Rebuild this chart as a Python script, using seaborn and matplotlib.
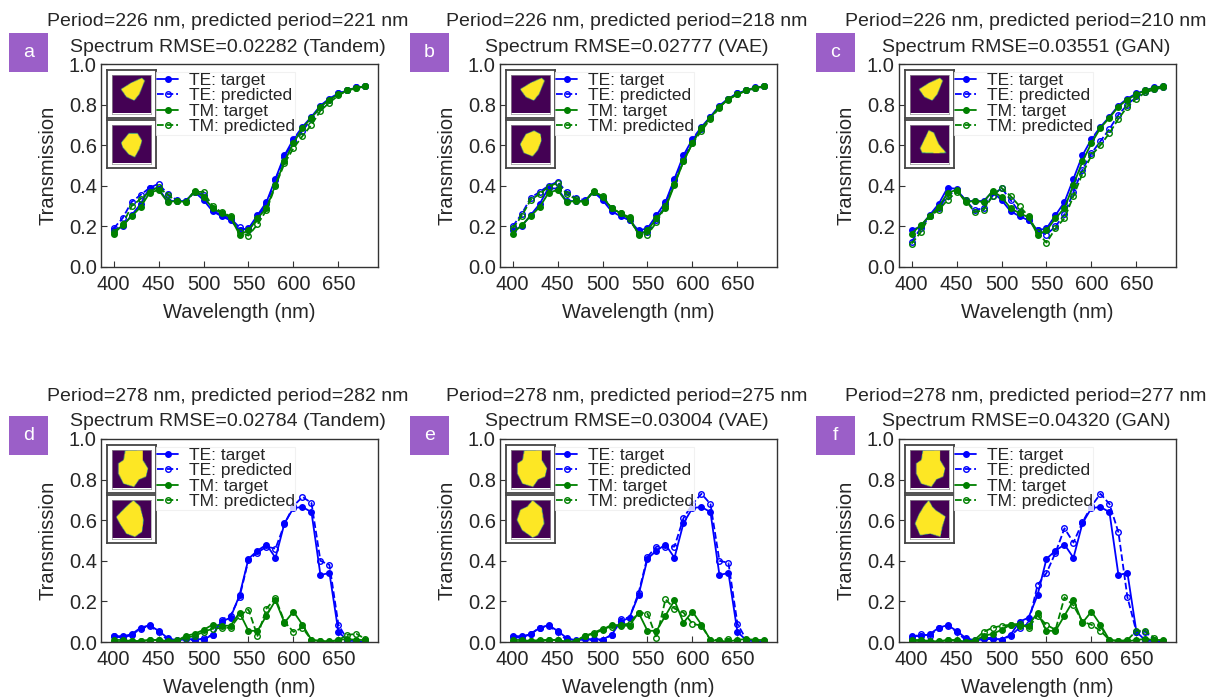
import numpy as np
import pandas as pd
import matplotlib
matplotlib.use("Agg")
import matplotlib.pyplot as plt
import seaborn as sns
from matplotlib.path import Path
from matplotlib.patches import Rectangle

# ---------------- data ----------------
wavelength = [400, 410, 420, 430, 440, 450, 460, 470, 480, 490, 500, 510, 520, 530, 540,
              550, 560, 570, 580, 590, 600, 610, 620, 630, 640, 650, 660, 670, 680]

# period 226 nm targets
te_target_226 = [0.18, 0.20, 0.255, 0.31, 0.39, 0.385, 0.325, 0.325, 0.325, 0.37, 0.33, 0.275, 0.25, 0.23, 0.18,
                 0.19, 0.255, 0.32, 0.435, 0.55, 0.63, 0.69, 0.74, 0.795, 0.83, 0.855, 0.87, 0.885, 0.89]
tm_target_226 = [0.165, 0.205, 0.25, 0.295, 0.365, 0.38, 0.32, 0.325, 0.32, 0.375, 0.345, 0.29, 0.265, 0.245, 0.16,
                 0.18, 0.24, 0.29, 0.405, 0.52, 0.61, 0.685, 0.735, 0.79, 0.825, 0.85, 0.87, 0.883, 0.89]
te_pred_tandem_226 = [0.19, 0.24, 0.32, 0.355, 0.39, 0.41, 0.36, 0.33, 0.325, 0.37, 0.355, 0.28, 0.255, 0.24, 0.195,
                      0.18, 0.24, 0.31, 0.43, 0.54, 0.62, 0.67, 0.73, 0.79, 0.825, 0.855, 0.87, 0.885, 0.89]
tm_pred_tandem_226 = [0.17, 0.21, 0.30, 0.335, 0.37, 0.395, 0.355, 0.325, 0.32, 0.37, 0.37, 0.30, 0.27, 0.25, 0.17,
                      0.155, 0.21, 0.28, 0.40, 0.51, 0.585, 0.645, 0.70, 0.77, 0.81, 0.845, 0.87, 0.88, 0.89]
te_pred_vae_226 = [0.20, 0.26, 0.34, 0.37, 0.40, 0.42, 0.37, 0.34, 0.33, 0.37, 0.34, 0.29, 0.26, 0.23, 0.17,
                   0.17, 0.23, 0.31, 0.43, 0.53, 0.62, 0.68, 0.74, 0.79, 0.83, 0.855, 0.87, 0.88, 0.89]
tm_pred_vae_226 = [0.19, 0.25, 0.33, 0.36, 0.395, 0.415, 0.36, 0.335, 0.32, 0.37, 0.35, 0.29, 0.265, 0.235, 0.165,
                   0.16, 0.22, 0.30, 0.41, 0.52, 0.61, 0.67, 0.73, 0.785, 0.83, 0.85, 0.87, 0.88, 0.89]
te_pred_gan_226 = [0.125, 0.19, 0.25, 0.29, 0.35, 0.38, 0.33, 0.28, 0.29, 0.35, 0.39, 0.33, 0.27, 0.23, 0.18,
                   0.16, 0.20, 0.26, 0.37, 0.48, 0.56, 0.62, 0.68, 0.75, 0.80, 0.84, 0.86, 0.875, 0.885]
tm_pred_gan_226 = [0.115, 0.17, 0.25, 0.28, 0.33, 0.37, 0.33, 0.27, 0.28, 0.35, 0.39, 0.35, 0.30, 0.25, 0.17,
                   0.12, 0.19, 0.24, 0.35, 0.46, 0.55, 0.60, 0.66, 0.73, 0.79, 0.83, 0.86, 0.875, 0.885]

# period 278 nm targets
te_target_278 = [0.03, 0.028, 0.038, 0.07, 0.083, 0.055, 0.02, 0.008, 0.013, 0.015, 0.012, 0.035, 0.10, 0.12, 0.23,
                 0.41, 0.45, 0.48, 0.415, 0.585, 0.66, 0.665, 0.64, 0.33, 0.34, 0.05, 0.008, 0.003, 0.003]
tm_target_278 = [0.01, 0.01, 0.005, 0.003, 0.01, 0.01, 0.0, 0.005, 0.03, 0.04, 0.06, 0.085, 0.08, 0.08, 0.145,
                 0.055, 0.055, 0.13, 0.205, 0.095, 0.15, 0.085, 0.01, 0.005, 0.003, 0.01, 0.015, 0.01, 0.01]
te_pred_tandem_278 = [0.03, 0.02, 0.035, 0.065, 0.08, 0.05, 0.01, 0.005, 0.02, 0.005, 0.02, 0.035, 0.11, 0.13, 0.22,
                      0.405, 0.44, 0.47, 0.46, 0.58, 0.67, 0.715, 0.685, 0.40, 0.38, 0.085, 0.01, 0.005, 0.0]
tm_pred_tandem_278 = [0.0, 0.0, 0.005, 0.005, 0.01, 0.01, 0.005, 0.01, 0.02, 0.03, 0.05, 0.065, 0.07, 0.07, 0.13,
                      0.16, 0.03, 0.165, 0.215, 0.10, 0.05, 0.07, 0.01, 0.005, 0.0, 0.01, 0.035, 0.04, 0.015]
te_pred_vae_278 = [0.025, 0.02, 0.04, 0.07, 0.08, 0.05, 0.01, 0.0, 0.02, 0.005, 0.01, 0.035, 0.115, 0.12, 0.24,
                   0.42, 0.47, 0.47, 0.47, 0.61, 0.68, 0.73, 0.68, 0.40, 0.39, 0.09, 0.01, 0.005, 0.0]
tm_pred_vae_278 = [0.0, 0.0, 0.005, 0.01, 0.01, 0.01, 0.0, 0.0, 0.03, 0.045, 0.065, 0.075, 0.085, 0.09, 0.145,
                   0.14, 0.02, 0.21, 0.165, 0.145, 0.09, 0.08, 0.01, 0.01, 0.015, 0.005, 0.01, 0.005, 0.005]
te_pred_gan_278 = [0.02, 0.04, 0.03, 0.07, 0.08, 0.05, 0.01, 0.005, 0.02, 0.02, 0.01, 0.03, 0.07, 0.09, 0.28,
                   0.34, 0.44, 0.56, 0.49, 0.59, 0.67, 0.73, 0.68, 0.54, 0.22, 0.05, 0.05, 0.01, 0.0]
tm_pred_gan_278 = [0.005, 0.005, 0.0, 0.0, 0.01, 0.005, 0.0, 0.01, 0.05, 0.07, 0.08, 0.085, 0.09, 0.07, 0.13,
                   0.085, 0.06, 0.22, 0.18, 0.10, 0.085, 0.055, 0.01, 0.005, 0.01, 0.055, 0.055, 0.02, 0.005]

panel_letters = ["a", "b", "c", "d", "e", "f"]
periods = [226, 226, 226, 278, 278, 278]
predicted_periods = [221, 218, 210, 282, 275, 277]
rmse_values = ["0.02282", "0.02777", "0.03551", "0.02784", "0.03004", "0.04320"]
methods = ["Tandem", "VAE", "GAN", "Tandem", "VAE", "GAN"]

# inset shape outlines (image coords, x right / y down, 0..1)
shape_target_226 = [(0.23, 0.39), (0.50, 0.22), (0.77, 0.10), (0.84, 0.17), (0.70, 0.52), (0.57, 0.68), (0.37, 0.59)]
shape_tandem_226 = [(0.23, 0.48), (0.42, 0.24), (0.64, 0.24), (0.75, 0.43), (0.68, 0.65), (0.57, 0.85),
                    (0.42, 0.78), (0.27, 0.60)]
shape_vae_226 = [(0.23, 0.52), (0.37, 0.26), (0.58, 0.17), (0.74, 0.26), (0.76, 0.43), (0.67, 0.67),
                 (0.54, 0.83), (0.32, 0.74)]
shape_gan_226 = [(0.26, 0.62), (0.39, 0.35), (0.48, 0.16), (0.61, 0.22), (0.74, 0.52), (0.93, 0.74),
                 (0.70, 0.75), (0.31, 0.74)]
shape_target_278 = [(0.33, 0.03), (0.77, 0.02), (0.77, 0.28), (0.90, 0.50), (0.85, 0.71), (0.68, 0.78),
                    (0.55, 0.97), (0.29, 0.89), (0.16, 0.63), (0.16, 0.37), (0.29, 0.28)]
shape_tandem_278 = [(0.55, 0.03), (0.72, 0.19), (0.81, 0.54), (0.77, 0.84), (0.59, 0.97), (0.37, 0.89),
                    (0.20, 0.63), (0.11, 0.46), (0.24, 0.32), (0.37, 0.19)]
shape_vae_278 = [(0.54, 0.03), (0.77, 0.23), (0.83, 0.63), (0.67, 0.93), (0.54, 0.99), (0.28, 0.80),
                 (0.15, 0.54), (0.23, 0.28), (0.41, 0.19)]
shape_gan_278 = [(0.48, 0.03), (0.57, 0.19), (0.65, 0.28), (0.91, 0.45), (0.83, 0.71), (0.78, 0.97),
                 (0.52, 0.89), (0.26, 0.93), (0.13, 0.63), (0.22, 0.41), (0.35, 0.19)]

panel_series = [
    (te_target_226, te_pred_tandem_226, tm_target_226, tm_pred_tandem_226, shape_target_226, shape_tandem_226),
    (te_target_226, te_pred_vae_226, tm_target_226, tm_pred_vae_226, shape_target_226, shape_vae_226),
    (te_target_226, te_pred_gan_226, tm_target_226, tm_pred_gan_226, shape_target_226, shape_gan_226),
    (te_target_278, te_pred_tandem_278, tm_target_278, tm_pred_tandem_278, shape_target_278, shape_tandem_278),
    (te_target_278, te_pred_vae_278, tm_target_278, tm_pred_vae_278, shape_target_278, shape_vae_278),
    (te_target_278, te_pred_gan_278, tm_target_278, tm_pred_gan_278, shape_target_278, shape_gan_278),
]

# ---------------- style ----------------
sns.set_style("ticks")
plt.rcParams["font.family"] = ["Liberation Sans", "DejaVu Sans"]
plt.rcParams["axes.edgecolor"] = "#333333"
plt.rcParams["axes.linewidth"] = 1.0

W, H = 1227, 697
fig = plt.figure(figsize=(W / 100, H / 100), dpi=100)

BLUE = "#0000ff"
GREEN = "#008000"
PURPLE = "#9b5fc8"
FS = 14.5


def shape_image(verts, n=48, ss=4):
    path = Path(np.array(verts))
    m = n * ss
    c = (np.arange(m) + 0.5) / m
    X, Y = np.meshgrid(c, c)
    inside = path.contains_points(np.column_stack([X.ravel(), Y.ravel()])).reshape(m, m)
    return inside.reshape(n, ss, n, ss).mean(axis=(1, 3))


ax_lefts = [101, 500, 899]
ax_tops = [64, 439]
ax_w, ax_h = 277, 203
box_x = [9, 410, 816]
box_y = [33, 416]

for i in range(6):
    r, c = divmod(i, 3)
    left = ax_lefts[c] / W
    bottom = 1 - (ax_tops[r] + ax_h) / H
    ax = fig.add_axes([left, bottom, ax_w / W, ax_h / H])
    te_t, te_p, tm_t, tm_p, sh_t, sh_p = panel_series[i]

    specs = [
        (te_t, BLUE, "-", BLUE, "TE: target"),
        (te_p, BLUE, "--", "none", "TE: predicted"),
        (tm_t, GREEN, "-", GREEN, "TM: target"),
        (tm_p, GREEN, "--", "none", "TM: predicted"),
    ]
    for vals, col, ls, fc, lbl in specs:
        df = pd.DataFrame({"wavelength": wavelength, "T": vals})
        sns.lineplot(data=df, x="wavelength", y="T", ax=ax, color=col, linestyle=ls,
                     marker="o", markersize=4.0, markerfacecolor=fc, markeredgecolor=col,
                     markeredgewidth=1.0, linewidth=1.3, label=lbl)

    ax.set_ylim(0, 1.0)
    ax.set_xticks([400, 450, 500, 550, 600, 650])
    ax.set_yticks([0.0, 0.2, 0.4, 0.6, 0.8, 1.0])
    ax.tick_params(axis="both", direction="in", labelsize=FS, length=4, color="#333333")
    ax.tick_params(axis="x", pad=6)
    ax.tick_params(axis="y", pad=3)
    ax.set_xlabel("Wavelength (nm)", fontsize=FS, labelpad=6)
    ax.set_ylabel("Transmission", fontsize=FS, labelpad=8)
    ax.set_title(f"Period={periods[i]} nm, predicted period={predicted_periods[i]} nm\n"
                 f"Spectrum RMSE={rmse_values[i]} ({methods[i]})", fontsize=14, pad=9,
                 linespacing=1.62, x=0.458)

    leg = ax.legend(loc="upper left", bbox_to_anchor=(0.2, 0.962), borderaxespad=0, fontsize=12.5,
                    handlelength=1.2, handletextpad=0.6, labelspacing=0.02, borderpad=0.05,
                    frameon=True, fancybox=False, framealpha=0.8, edgecolor="#eeeeee")
    leg.get_frame().set_linewidth(0.8)

    # insets: frame + image
    for k, verts in enumerate([sh_t, sh_p]):
        y0 = 6 + k * 50
        frame = ax.inset_axes([6 / ax_w, 1 - (y0 + 48) / ax_h, 49 / ax_w, 48 / ax_h])
        frame.set_xticks([])
        frame.set_yticks([])
        frame.set_facecolor("white")
        for sp in frame.spines.values():
            sp.set_color("#444444")
            sp.set_linewidth(1.3)
        frame.set_zorder(5)
        img_ax = ax.inset_axes([11 / ax_w, 1 - (y0 + 43.5) / ax_h, 39 / ax_w, 39 / ax_h])
        img_ax.imshow(shape_image(verts), cmap="viridis", vmin=0, vmax=1, interpolation="bilinear")
        img_ax.set_xticks([])
        img_ax.set_yticks([])
        for sp in img_ax.spines.values():
            sp.set_color("#999999")
            sp.set_linewidth(0.5)
        img_ax.set_zorder(6)

    # purple panel label
    bx, by = box_x[c], box_y[r]
    fig.add_artist(Rectangle((bx / W, 1 - (by + 39) / H), 39 / W, 39 / H,
                             transform=fig.transFigure, facecolor=PURPLE, edgecolor="none"))
    fig.text((bx + 19.5) / W, 1 - (by + 19.5) / H, panel_letters[i], color="white",
             fontsize=14, ha="center", va="center")

fig.savefig("out.png", dpi=100)
